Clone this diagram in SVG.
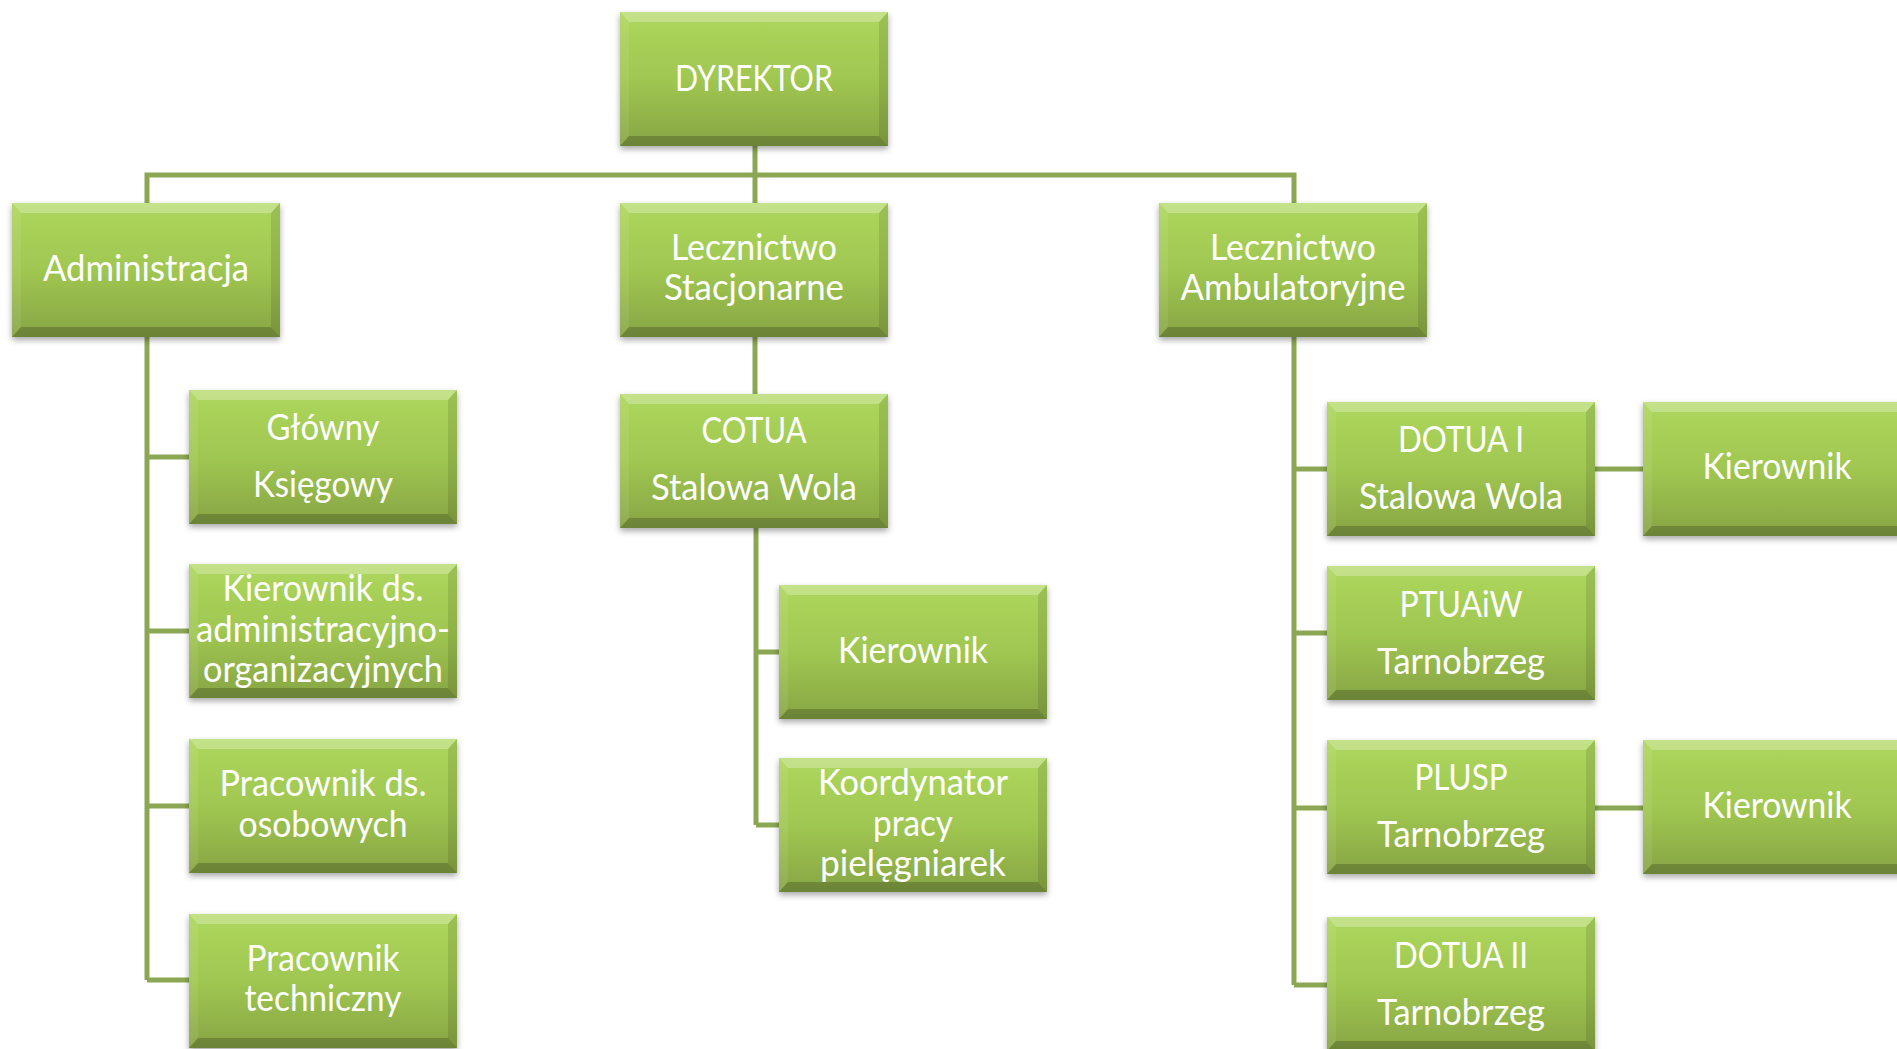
<svg xmlns="http://www.w3.org/2000/svg" xmlns:xlink="http://www.w3.org/1999/xlink" width="1897" height="1049" viewBox="0 0 1897 1049">
<style>
.conn{fill:none;stroke:#8ba753;stroke-width:5;stroke-linecap:butt}
text{font-family:Lato,"Liberation Sans",sans-serif;font-size:37px;fill:#ffffff;text-anchor:middle}
</style>
<defs>
<linearGradient id="g" x1="0" y1="0" x2="0" y2="1">
<stop offset="0" stop-color="#add75d"/>
<stop offset="0.5" stop-color="#a0c751"/>
<stop offset="1" stop-color="#87a544"/>
</linearGradient>
<filter id="sh" x="-10%" y="-10%" width="120%" height="130%">
<feDropShadow dx="0" dy="3" stdDeviation="3" flood-color="#000" flood-opacity="0.35"/>
</filter>
<g id="box">
<rect x="0" y="0" width="268" height="134" fill="url(#g)"/>
<polygon points="0,0 268,0 259,10 9,10" fill="#ffffff" fill-opacity="0.28"/>
<polygon points="0,0 9,10 9,124 0,134" fill="#ffffff" fill-opacity="0.08"/>
<polygon points="268,0 268,134 259,124 259,10" fill="#000000" fill-opacity="0.1"/>
<polygon points="0,134 9,124 259,124 268,134" fill="#000000" fill-opacity="0.2"/>
</g>
</defs>
<rect width="1897" height="1049" fill="#ffffff"/>
<g id="connectors">
<path class="conn" d="M755 146V203M147 203V175H1294V203"/>
<path class="conn" d="M755 336V394"/>
<path class="conn" d="M147 336V980M147 457H189M147 631H189M147 806H189M147 980H189"/>
<path class="conn" d="M756 527V825M756 652H779M756 825H779"/>
<path class="conn" d="M1294 336V985M1294 469H1327M1294 633H1327M1294 808H1327M1294 985H1327"/>
<path class="conn" d="M1595 469H1643M1595 808H1643"/>
</g>
<g id="dyrektor"><use xlink:href="#box" x="620" y="12" filter="url(#sh)"/><text x="754" y="91" textLength="158" lengthAdjust="spacingAndGlyphs">DYREKTOR</text></g>
<g id="administracja"><use xlink:href="#box" x="12" y="203" filter="url(#sh)"/><text x="146" y="281" textLength="206" lengthAdjust="spacingAndGlyphs">Administracja</text></g>
<g id="lecznictwo-stacjonarne"><use xlink:href="#box" x="620" y="203" filter="url(#sh)"/><text x="754" y="260" textLength="166" lengthAdjust="spacingAndGlyphs">Lecznictwo</text><text x="754" y="300" textLength="180" lengthAdjust="spacingAndGlyphs">Stacjonarne</text></g>
<g id="lecznictwo-ambulatoryjne"><use xlink:href="#box" x="1159" y="203" filter="url(#sh)"/><text x="1293" y="260" textLength="166" lengthAdjust="spacingAndGlyphs">Lecznictwo</text><text x="1293" y="300" textLength="225" lengthAdjust="spacingAndGlyphs">Ambulatoryjne</text></g>
<g id="glowny-ksiegowy"><use xlink:href="#box" x="189" y="390" filter="url(#sh)"/><text x="323" y="440" textLength="113" lengthAdjust="spacingAndGlyphs">Główny</text><text x="323" y="497" textLength="140" lengthAdjust="spacingAndGlyphs">Księgowy</text></g>
<g id="kierownik-adm"><use xlink:href="#box" x="189" y="564" filter="url(#sh)"/><text x="323" y="601" textLength="201" lengthAdjust="spacingAndGlyphs">Kierownik ds.</text><text x="323" y="642" textLength="254" lengthAdjust="spacingAndGlyphs">administracyjno-</text><text x="323" y="682" textLength="240" lengthAdjust="spacingAndGlyphs">organizacyjnych</text></g>
<g id="pracownik-osobowych"><use xlink:href="#box" x="189" y="739" filter="url(#sh)"/><text x="323" y="796" textLength="207" lengthAdjust="spacingAndGlyphs">Pracownik ds.</text><text x="323" y="837" textLength="169" lengthAdjust="spacingAndGlyphs">osobowych</text></g>
<g id="pracownik-techniczny"><use xlink:href="#box" x="189" y="914" filter="url(#sh)"/><text x="323" y="971" textLength="153" lengthAdjust="spacingAndGlyphs">Pracownik</text><text x="323" y="1011" textLength="157" lengthAdjust="spacingAndGlyphs">techniczny</text></g>
<g id="cotua"><use xlink:href="#box" x="620" y="394" filter="url(#sh)"/><text x="754" y="443" textLength="105" lengthAdjust="spacingAndGlyphs">COTUA</text><text x="754" y="500" textLength="206" lengthAdjust="spacingAndGlyphs">Stalowa Wola</text></g>
<g id="kierownik-cotua"><use xlink:href="#box" x="779" y="585" filter="url(#sh)"/><text x="913" y="663" textLength="150" lengthAdjust="spacingAndGlyphs">Kierownik</text></g>
<g id="koordynator"><use xlink:href="#box" x="779" y="758" filter="url(#sh)"/><text x="913" y="795" textLength="190" lengthAdjust="spacingAndGlyphs">Koordynator</text><text x="913" y="836" textLength="80" lengthAdjust="spacingAndGlyphs">pracy</text><text x="913" y="876" textLength="186" lengthAdjust="spacingAndGlyphs">pielęgniarek</text></g>
<g id="dotua-1"><use xlink:href="#box" x="1327" y="402" filter="url(#sh)"/><text x="1461" y="452" textLength="126" lengthAdjust="spacingAndGlyphs">DOTUA I</text><text x="1461" y="509" textLength="204" lengthAdjust="spacingAndGlyphs">Stalowa Wola</text></g>
<g id="kierownik-dotua-1"><use xlink:href="#box" x="1643" y="402" filter="url(#sh)"/><text x="1777" y="479" textLength="149" lengthAdjust="spacingAndGlyphs">Kierownik</text></g>
<g id="ptuaiw"><use xlink:href="#box" x="1327" y="566" filter="url(#sh)"/><text x="1461" y="617" textLength="123" lengthAdjust="spacingAndGlyphs">PTUAiW</text><text x="1461" y="674" textLength="168" lengthAdjust="spacingAndGlyphs">Tarnobrzeg</text></g>
<g id="plusp"><use xlink:href="#box" x="1327" y="740" filter="url(#sh)"/><text x="1461" y="790" textLength="93" lengthAdjust="spacingAndGlyphs">PLUSP</text><text x="1461" y="847" textLength="168" lengthAdjust="spacingAndGlyphs">Tarnobrzeg</text></g>
<g id="kierownik-plusp"><use xlink:href="#box" x="1643" y="740" filter="url(#sh)"/><text x="1777" y="818" textLength="149" lengthAdjust="spacingAndGlyphs">Kierownik</text></g>
<g id="dotua-2"><use xlink:href="#box" x="1327" y="917" filter="url(#sh)"/><text x="1461" y="968" textLength="134" lengthAdjust="spacingAndGlyphs">DOTUA II</text><text x="1461" y="1025" textLength="168" lengthAdjust="spacingAndGlyphs">Tarnobrzeg</text></g>
</svg>
